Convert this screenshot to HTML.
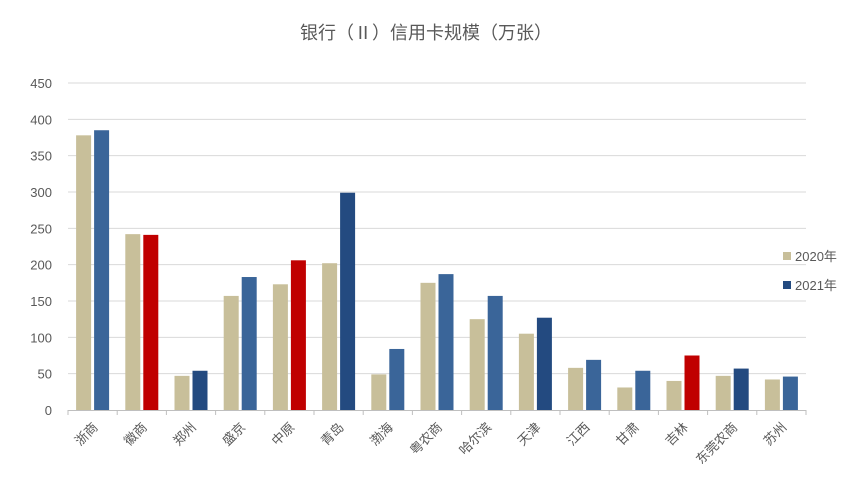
<!DOCTYPE html>
<html><head><meta charset="utf-8"><style>
body{margin:0;background:#fff;width:851px;height:488px;overflow:hidden}
text{font-family:"Liberation Sans","Noto Sans CJK SC",sans-serif}
</style></head><body>
<svg id="c" width="851" height="488">
<text x="426" y="39" text-anchor="middle" font-size="18" fill="#595959">银行（Ⅱ）信用卡规模（万张）</text>
</svg>
<script>
const categories=["浙商","徽商","郑州","盛京","中原","青岛","渤海","粤农商","哈尔滨","天津","江西","甘肃","吉林","东莞农商","苏州"];
const values2020=[378,242,47,157,173,202,49,175,125,105,58,31,40,47,42];
const values2021=[385,241,54,183,206,299,84,187,157,127,69,54,75,57,46];
const highlight2021=["徽商","中原","吉林"];
const darkBlue2021=["郑州","青岛","天津","东莞农商"];
const yTicks=[0,50,100,150,200,250,300,350,400,450];
const svg=document.getElementById('c');const NS="http://www.w3.org/2000/svg";
const x0=68,x1=806,y0=410,yTop=83,yMax=450;
const y=v=>y0-(v/yMax)*(y0-yTop);
const step=(x1-x0)/categories.length;
function mk(t,a,name){const e=document.createElementNS(NS,t);for(const k in a)e.setAttribute(k,a[k]);


svg.appendChild(e);return e;}
yTicks.forEach(t=>{
 if(t>0)mk('line',{x1:x0,x2:x1,y1:y(t),y2:y(t),stroke:'#d9d9d9','stroke-width':1},'gridline-'+t);
 const l=mk('text',{x:52,y:y(t)+5,'text-anchor':'end','font-size':13,fill:'#595959'},'y-tick-label');l.textContent=t;
});
mk('line',{x1:x0,x2:x1,y1:y0+0.5,y2:y0+0.5,stroke:'#bfbfbf'},'x-axis-line');
for(let i=0;i<=categories.length;i++)mk('line',{x1:x0+i*step,x2:x0+i*step,y1:y0,y2:y0+5,stroke:'#bfbfbf'},'x-tick');
categories.forEach((c,i)=>{
 const cx=x0+step*(i+0.5),bw=15;
 mk('rect',{x:cx-bw-1.5,y:y(values2020[i]),width:bw,height:y0-y(values2020[i]),fill:'#c8bf9a'},'bar-2020-'+c);
 const col=highlight2021.includes(c)?'#c00000':(darkBlue2021.includes(c)?'#234a80':'#3a6599');
 mk('rect',{x:cx+1.5,y:y(values2021[i]),width:bw,height:y0-y(values2021[i]),fill:col},'bar-2021-'+c);
 const t=mk('text',{x:cx+6,y:y0+18,'text-anchor':'end','font-size':13,fill:'#595959',transform:`rotate(-45 ${cx+6} ${y0+18})`},'x-tick-label');t.textContent=c;
});
mk('rect',{x:783,y:252,width:8,height:8,fill:'#c8bf9a'},'legend-swatch-2020');
const l1=mk('text',{x:795,y:261,'font-size':13,fill:'#595959'},'legend-entry-2020');l1.textContent='2020年';
mk('rect',{x:783,y:281,width:8,height:8,fill:'#234a80'},'legend-swatch-2021');
const l2=mk('text',{x:795,y:290,'font-size':13,fill:'#595959'},'legend-entry-2021');l2.textContent='2021年';
</script>
</body></html>
